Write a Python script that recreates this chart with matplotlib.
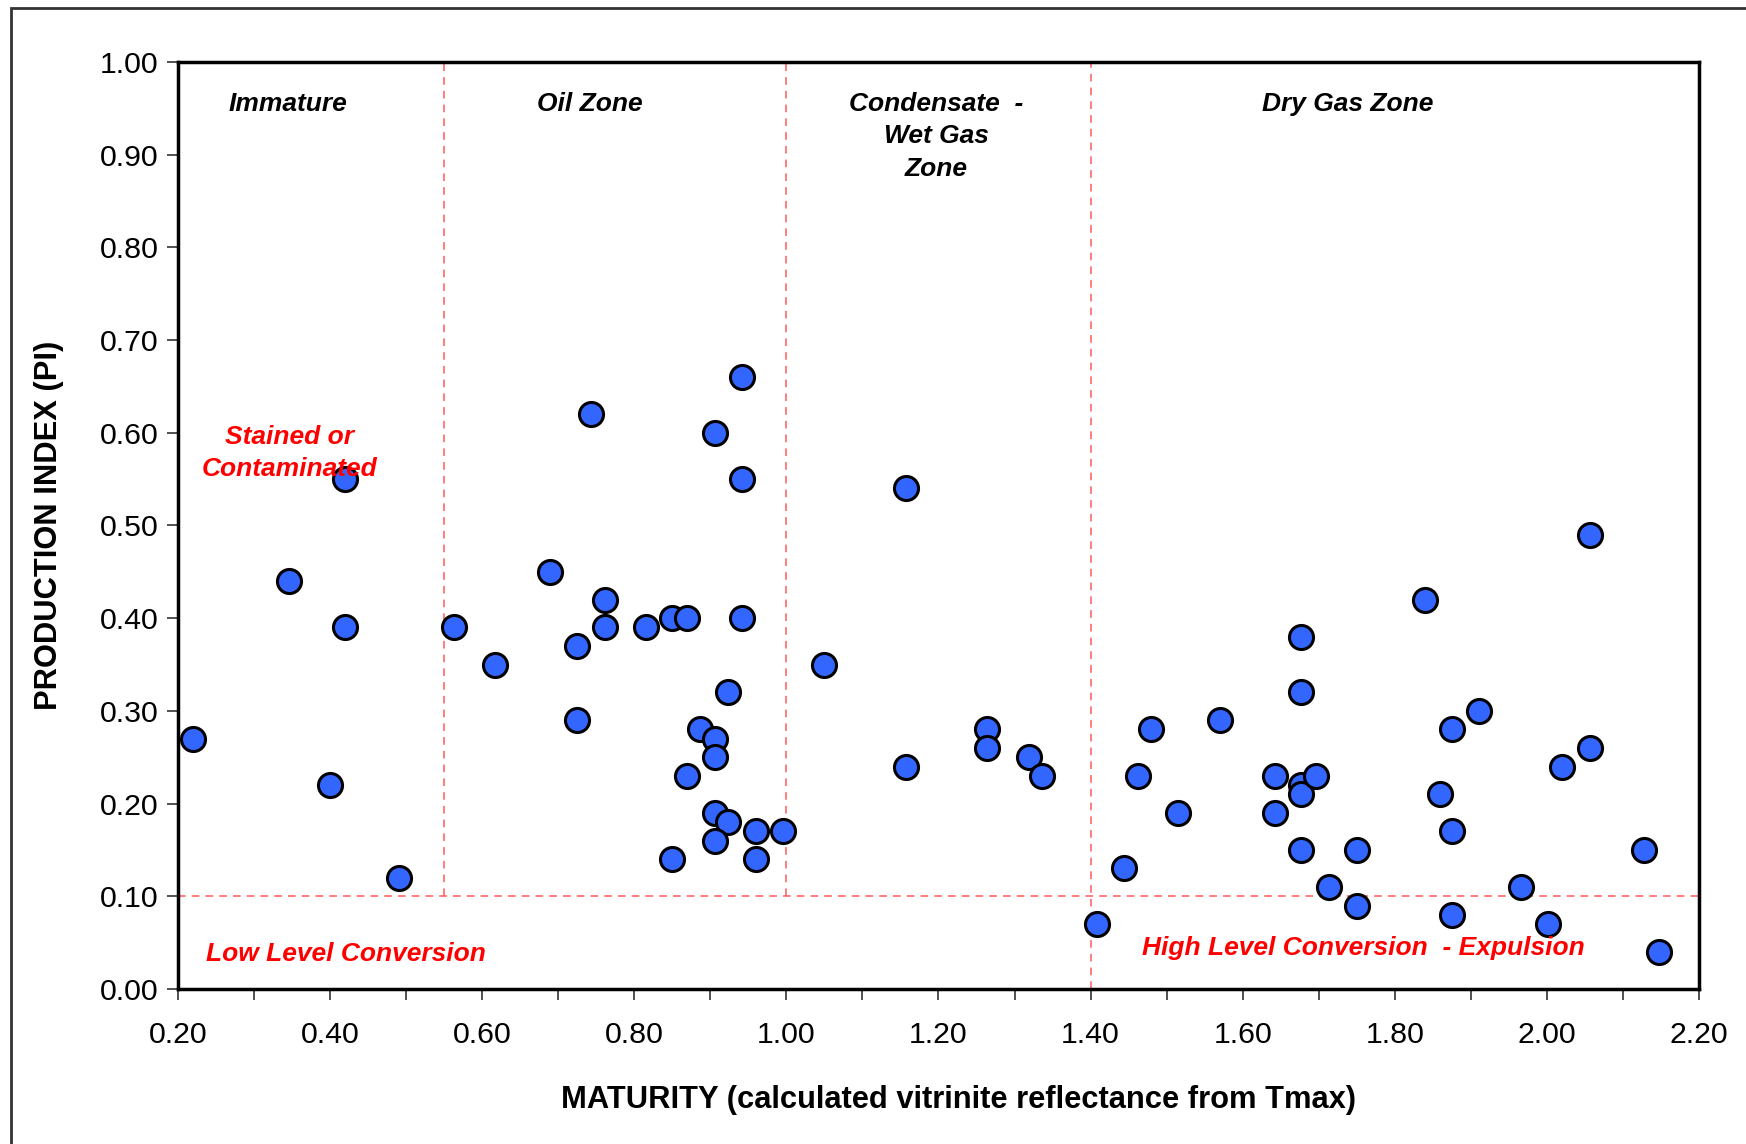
import numpy as np
import matplotlib.pyplot as plt
from matplotlib.patches import Rectangle
from matplotlib.ticker import MultipleLocator, FormatStrFormatter

plt.rcParams['font.family'] = ['Liberation Sans', 'DejaVu Sans']

# Datos: madurez (Ro calculado) vs indice de produccion
madurez = [0.22, 0.346, 0.42, 0.42, 0.40, 0.491, 0.563, 0.617, 0.743, 0.689,
           0.761, 0.761, 0.724, 0.724, 0.815, 0.85, 0.869, 0.906, 0.941, 0.941,
           0.941, 0.923, 0.887, 0.906, 0.906, 0.869, 0.906, 0.923, 0.906, 0.96,
           0.995, 0.85, 0.96, 1.049, 1.157, 1.157, 1.264, 1.264, 1.319, 1.336,
           1.408, 1.444, 1.462, 1.48, 1.515, 1.57, 1.642, 1.642, 1.677, 1.677,
           1.677, 1.677, 1.696, 1.677, 1.714, 1.75, 1.75, 1.84, 1.859, 1.876,
           1.876, 1.876, 1.911, 1.966, 2.002, 2.02, 2.057, 2.057, 2.128, 2.147]
indice_pi = [0.27, 0.44, 0.55, 0.39, 0.22, 0.12, 0.39, 0.35, 0.62, 0.45,
             0.42, 0.39, 0.37, 0.29, 0.39, 0.40, 0.40, 0.60, 0.66, 0.55,
             0.40, 0.32, 0.28, 0.27, 0.25, 0.23, 0.19, 0.18, 0.16, 0.17,
             0.17, 0.14, 0.14, 0.35, 0.54, 0.24, 0.28, 0.26, 0.25, 0.23,
             0.07, 0.13, 0.23, 0.28, 0.19, 0.29, 0.23, 0.19, 0.38, 0.32,
             0.22, 0.21, 0.23, 0.15, 0.11, 0.15, 0.09, 0.42, 0.21, 0.28,
             0.17, 0.08, 0.30, 0.11, 0.07, 0.24, 0.49, 0.26, 0.15, 0.04]

limites_zona = [0.55, 1.00, 1.40]
limite_pi = 0.10

zonas = ["Immature", "Oil Zone", "Condensate  -\nWet Gas\nZone", "Dry Gas Zone"]
zonas_x = [0.345, 0.742, 1.197, 1.738]

rojo_linea = "#ff5a5a"

fig = plt.figure(figsize=(17.46, 11.44), dpi=100)
ax = fig.add_axes([0.102, 0.1355, 0.871, 0.8103])

# Lineas de zonas
ax.plot([limites_zona[0], limites_zona[0]], [limite_pi, 1.0], color=rojo_linea, ls=(0, (5, 4)), lw=1.1)
ax.plot([limites_zona[1], limites_zona[1]], [limite_pi, 1.0], color=rojo_linea, ls=(0, (5, 4)), lw=1.1)
ax.plot([limites_zona[2], limites_zona[2]], [0.0, 1.0], color=rojo_linea, ls=(0, (5, 4)), lw=1.1)
ax.plot([0.2, 2.2], [limite_pi, limite_pi], color=rojo_linea, ls=(0, (5, 4)), lw=1.1)

ax.scatter(madurez, indice_pi, s=300, color="#3366ff", edgecolors="black", linewidths=2.2, zorder=3)

for texto, xz in zip(zonas, zonas_x):
    ax.text(xz, 0.968, texto, ha="center", va="top", fontsize=19, fontweight="bold",
            style="italic", linespacing=1.45)

ax.text(0.346, 0.578, "Stained or\nContaminated", ha="center", va="center", color="red",
        fontsize=19, fontweight="bold", style="italic", linespacing=1.45, zorder=4)
ax.text(0.237, 0.038, "Low Level Conversion", ha="left", va="center", color="red",
        fontsize=19, fontweight="bold", style="italic")
ax.text(1.759, 0.044, "High Level Conversion  - Expulsion", ha="center", va="center", color="red",
        fontsize=19, fontweight="bold", style="italic")

ax.set_xlim(0.2, 2.2)
ax.set_ylim(0.0, 1.0)
ax.xaxis.set_major_locator(MultipleLocator(0.2))
ax.xaxis.set_minor_locator(MultipleLocator(0.1))
ax.yaxis.set_major_locator(MultipleLocator(0.1))
ax.xaxis.set_major_formatter(FormatStrFormatter("%.2f"))
ax.yaxis.set_major_formatter(FormatStrFormatter("%.2f"))
ax.tick_params(axis="both", which="both", direction="out", length=8, width=1.2,
               color="#333333", labelsize=21.8)
ax.tick_params(axis="x", pad=15)
ax.tick_params(axis="y", pad=6)
for lado in ax.spines.values():
    lado.set_linewidth(2.5)
    lado.set_color("black")

ax.set_xlabel("MATURITY (calculated vitrinite reflectance from Tmax)", fontsize=22.2,
              fontweight="bold", labelpad=26)
ax.xaxis.set_label_coords(0.513, -0.104)
ax.set_ylabel("PRODUCTION INDEX (PI)", fontsize=22.2, fontweight="bold", labelpad=26)

# Marco del grafico completo
fig.patches.append(Rectangle((11 / 1746, -0.01), 1.0, 1.0 - 8 / 1144 + 0.01, transform=fig.transFigure,
                             fill=False, edgecolor="#333333", linewidth=2))

fig.savefig("out.png", dpi=100)
